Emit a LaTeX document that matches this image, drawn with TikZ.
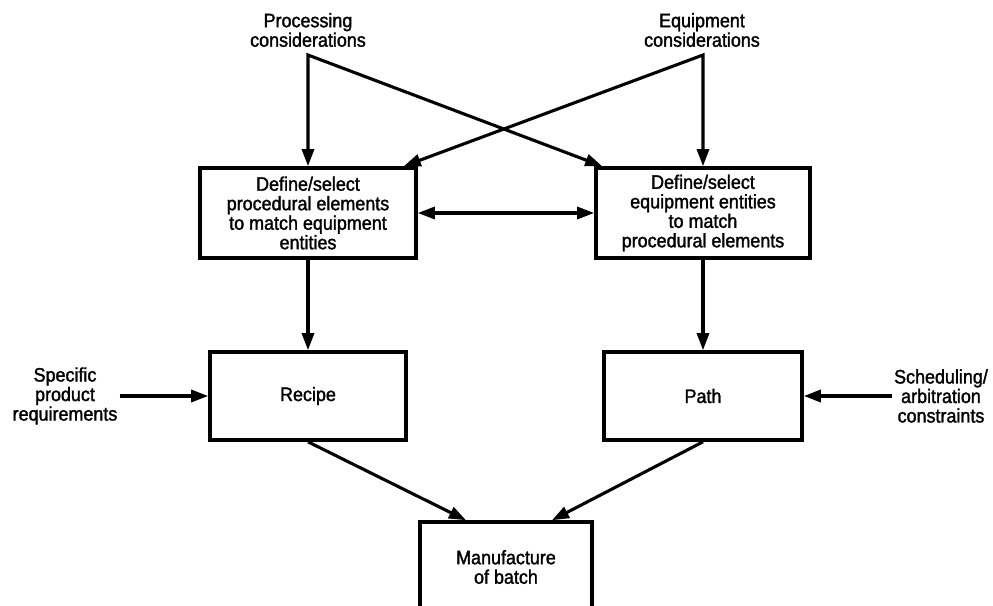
\documentclass[tikz,border=0pt]{standalone}
\usepackage{fontspec}
\setmainfont{Liberation Sans}[FakeStretch=0.92, FakeBold=1.6]
\usetikzlibrary{arrows.meta}

\begin{document}
\begin{tikzpicture} [x = 1pt, y = -1pt]
        %style
        \tikzset{>={Triangle[length=17pt, width=12pt]}}
        \tikzset{box/.style = {shape=rectangle, draw, line width=3.6pt, align=center, inner sep=0pt, font=\fontsize{19.5}{19.5}\selectfont}}
        \tikzset{txt/.style = {align=center, inner sep=2pt, font=\fontsize{19.5}{19.5}\selectfont}}
        \tikzset{arr/.style = {line width=3.1pt}}
        \useasboundingbox (0,0) rectangle (993,605);
        \node[txt] (proc)  at (308,30) {Processing\\considerations};
        \node[txt] (equip) at (702,30) {Equipment\\considerations};
        \coordinate (procv)  at (308,55);
        \coordinate (equipv) at (703,55);
        \node[box, minimum width=216, minimum height=90] (defproc)  at (308,213) {Define/select\\procedural elements\\to match equipment\\entities};
        \node[box, minimum width=214, minimum height=90] (defequip) at (703,213) {Define/select\\equipment entities\\to match\\procedural elements};
        \node[box, minimum width=196, minimum height=88] (recipe) at (308,396) {Recipe};
        \node[box, minimum width=198, minimum height=88] (path)   at (703,396) {Path};
        \node[box, minimum width=172, minimum height=90] (batch)  at (506,567) {Manufacture\\of batch};
        \node[txt] (spec)  at (65,396)  {Specific\\product\\requirements};
        \node[txt] (sched) at (941,396) {Scheduling/\\arbitration\\constraints};
        \draw [arr, <->] ([xshift=8pt]defequip.north west) -- (procv) -- (defproc);
        \draw [arr, <->] ([xshift=-14pt]defproc.north east) -- (equipv) -- (defequip);
        \draw [arr, <->] (defproc) to (defequip);
        \draw [arr, ->] (defproc) to (recipe);
        \draw [arr, ->] (defequip) to (path);
        \draw [arr, ->] (spec) to (recipe);
        \draw [arr, ->] (sched) to (path);
        \draw [arr, ->] (recipe.south) to ([xshift=-40pt]batch.north);
        \draw [arr, ->] (path.south) to ([xshift=46pt]batch.north);
\end{tikzpicture}
\end{document}
